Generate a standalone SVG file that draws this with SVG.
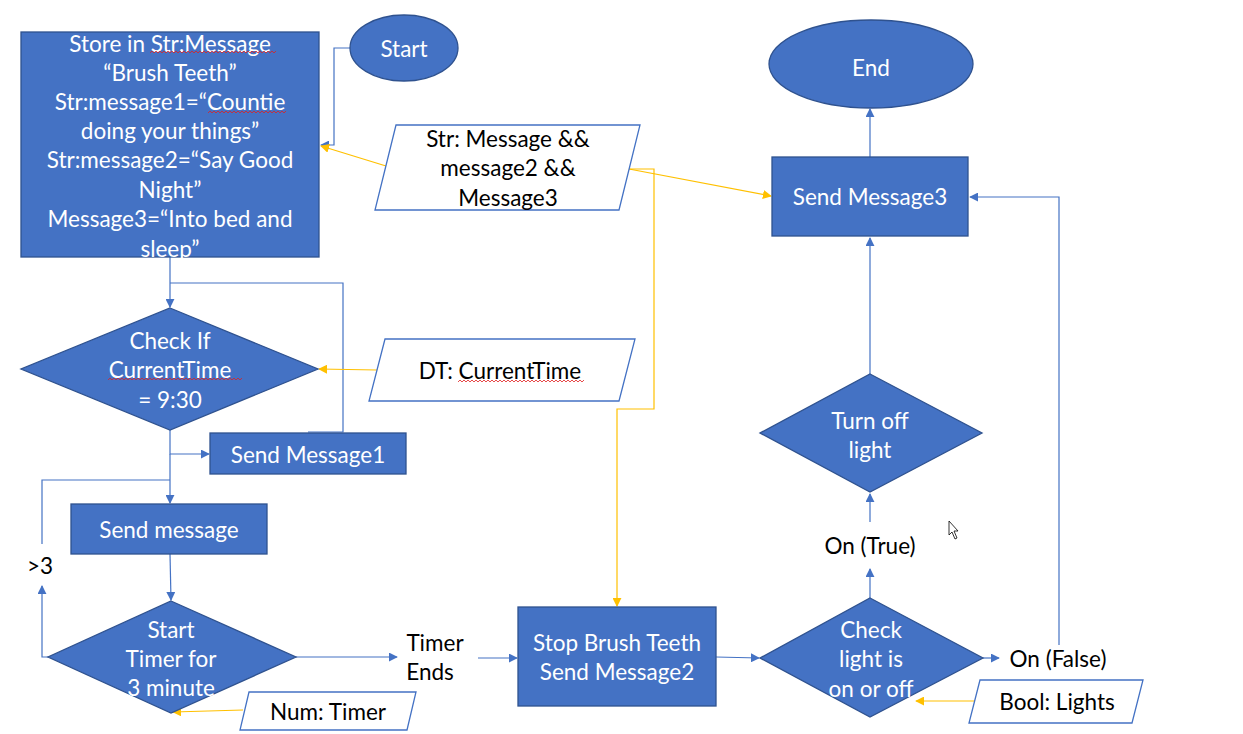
<svg xmlns="http://www.w3.org/2000/svg" width="1243" height="734" viewBox="0 0 1243 734">
<style>
.fill{fill:#4472C4;stroke:#2F528F;stroke-width:1.3}
.io{fill:#fff;stroke:#4472C4;stroke-width:1.3}
.w{fill:#fff;font-family:Lato,"Open Sans",sans-serif;font-size:22.5px;text-anchor:middle;dominant-baseline:central}
.b{fill:#000;font-family:Lato,"Open Sans",sans-serif;font-size:22.5px;text-anchor:middle;dominant-baseline:central}
.cb{fill:none;stroke:#4472C4;stroke-width:1.2}
.cy{fill:none;stroke:#FFC000;stroke-width:1.2}
.sq{fill:none;stroke:#E02020;stroke-width:0.8}
</style>
<defs>
<marker id="ab" viewBox="0 0 10 10" refX="9" refY="5" markerWidth="9" markerHeight="9" markerUnits="userSpaceOnUse" orient="auto"><path d="M0,0L10,5L0,10z" fill="#4472C4"/></marker>
<marker id="ay" viewBox="0 0 10 10" refX="9" refY="5" markerWidth="9" markerHeight="9" markerUnits="userSpaceOnUse" orient="auto"><path d="M0,0L10,5L0,10z" fill="#FFC000"/></marker>
</defs>
<rect width="1243" height="734" fill="#fff"/>
<g id="connectors">
<polyline class="cb" points="350,48 334,48 334,145 321,145" marker-end="url(#ab)"/>
<line class="cy" x1="386" y1="166" x2="321" y2="146" marker-end="url(#ay)"/>
<line class="cy" x1="629" y1="169" x2="771" y2="196" marker-end="url(#ay)"/>
<polyline class="cy" points="629,169 654,169 654,409 617,409 617,606" marker-end="url(#ay)"/>
<line class="cb" x1="870" y1="157" x2="870" y2="109" marker-end="url(#ab)"/>
<line class="cb" x1="870" y1="374" x2="870" y2="238" marker-end="url(#ab)"/>
<line class="cb" x1="870" y1="522" x2="870" y2="494" marker-end="url(#ab)"/>
<line class="cb" x1="870" y1="598" x2="870" y2="569" marker-end="url(#ab)"/>
<line class="cb" x1="983" y1="658" x2="999" y2="658" marker-end="url(#ab)"/>
<polyline class="cb" points="1059,645 1059,197 970,197" marker-end="url(#ab)"/>
<line class="cy" x1="975" y1="701" x2="916" y2="701" marker-end="url(#ay)"/>
<line class="cb" x1="716" y1="657" x2="759" y2="658" marker-end="url(#ab)"/>
<line class="cb" x1="478" y1="658" x2="517" y2="658" marker-end="url(#ab)"/>
<line class="cb" x1="296" y1="657" x2="397" y2="657" marker-end="url(#ab)"/>
<line class="cb" x1="170" y1="257" x2="170" y2="307" marker-end="url(#ab)"/>
<polyline class="cb" points="170,283 343,283 343,432 308,432"/>
<line class="cy" x1="377" y1="370" x2="319" y2="369" marker-end="url(#ay)"/>
<polyline class="cb" points="170,430 170,454 209,454" marker-end="url(#ab)"/>
<line class="cb" x1="170" y1="454" x2="170" y2="503" marker-end="url(#ab)"/>
<polyline class="cb" points="170,480 42,480 42,544"/>
<polyline class="cb" points="48,657 42,657 42,586" marker-end="url(#ab)"/>
<line class="cb" x1="170" y1="554" x2="171" y2="600" marker-end="url(#ab)"/>
<line class="cy" x1="243" y1="710" x2="173" y2="712" marker-end="url(#ay)"/>
</g>
<g id="store">
<rect class="fill" x="21" y="32" width="298" height="225"/>
<text class="w" x="170" y="43">Store in Str:Message</text>
<text class="w" x="170" y="72">“Brush Teeth”</text>
<text class="w" x="170" y="101">Str:message1=“Countie</text>
<text class="w" x="170" y="130">doing your things”</text>
<text class="w" x="170" y="159">Str:message2=“Say Good</text>
<text class="w" x="170" y="189">Night”</text>
<text class="w" x="170" y="218">Message3=“Into bed and</text>
<text class="w" x="170" y="248">sleep”</text>
<path class="sq" d="M150,53 l2,-2 l2,2 l2,-2 l2,2 l2,-2 l2,2 l2,-2 l2,2 l2,-2 l2,2 l2,-2 l2,2 l2,-2 l2,2 l2,-2 l2,2 l2,-2 l2,2 l2,-2 l2,2 l2,-2 l2,2 l2,-2 l2,2 l2,-2 l2,2 l2,-2 l2,2 l2,-2 l2,2 l2,-2 l2,2 l2,-2 l2,2 l2,-2 l2,2 l2,-2 l2,2 l2,-2 l2,2 l2,-2 l2,2 l2,-2 l2,2 l2,-2 l2,2 l2,-2 l2,2 l2,-2 l2,2 l2,-2 l2,2 l2,-2 l2,2 l2,-2 l2,2 l2,-2 l2,2 l2,-2 l2,2 l2,-2 l2,2 l2,-2"/>
<path class="sq" d="M208,113 l2,-2 l2,2 l2,-2 l2,2 l2,-2 l2,2 l2,-2 l2,2 l2,-2 l2,2 l2,-2 l2,2 l2,-2 l2,2 l2,-2 l2,2 l2,-2 l2,2 l2,-2 l2,2 l2,-2 l2,2 l2,-2 l2,2 l2,-2 l2,2 l2,-2 l2,2 l2,-2 l2,2 l2,-2 l2,2 l2,-2 l2,2 l2,-2 l2,2 l2,-2 l2,2 l2,-2"/>
</g>
<g id="start">
<ellipse class="fill" cx="404" cy="48" rx="54" ry="33"/>
<text class="w" x="404" y="48">Start</text>
</g>
<g id="io-messages">
<polygon class="io" points="396,125 640,125 619,210 375,210"/>
<text class="b" x="508" y="138">Str: Message &amp;&amp;</text>
<text class="b" x="508" y="167">message2 &amp;&amp;</text>
<text class="b" x="508" y="197">Message3</text>
</g>
<g id="end">
<ellipse class="fill" cx="871" cy="64" rx="102" ry="44"/>
<text class="w" x="871" y="67">End</text>
</g>
<g id="send-message3">
<rect class="fill" x="772" y="157" width="196" height="79"/>
<text class="w" x="870" y="196">Send Message3</text>
</g>
<g id="turn-off-light">
<polygon class="fill" points="870,374 982,433 870,492 760,433"/>
<text class="w" x="870" y="420">Turn off</text>
<text class="w" x="870" y="449">light</text>
</g>
<g id="on-true">
<text class="b" x="870" y="545">On (True)</text>
</g>
<g id="check-light">
<polygon class="fill" points="870,598 983,658 870,717 760,658"/>
<text class="w" x="871" y="629">Check</text>
<text class="w" x="871" y="658">light is</text>
<text class="w" x="871" y="688">on or off</text>
</g>
<g id="on-false">
<text class="b" x="1058" y="658">On (False)</text>
</g>
<g id="bool-lights">
<polygon class="io" points="980,680 1143,680 1132,723 969,723"/>
<text class="b" x="1057" y="701">Bool: Lights</text>
</g>
<g id="stop-brush">
<rect class="fill" x="518" y="607" width="198" height="99"/>
<text class="w" x="617" y="642">Stop Brush Teeth</text>
<text class="w" x="617" y="671">Send Message2</text>
</g>
<g id="timer-ends">
<text class="b" x="435" y="642">Timer</text>
<text class="b" x="430" y="671">Ends</text>
</g>
<g id="check-time">
<polygon class="fill" points="170,308 318,369 170,430 21,369"/>
<text class="w" x="170" y="340">Check If</text>
<text class="w" x="170" y="369">CurrentTime</text>
<text class="w" x="170" y="399">= 9:30</text>
<path class="sq" d="M108,380 l2,-2 l2,2 l2,-2 l2,2 l2,-2 l2,2 l2,-2 l2,2 l2,-2 l2,2 l2,-2 l2,2 l2,-2 l2,2 l2,-2 l2,2 l2,-2 l2,2 l2,-2 l2,2 l2,-2 l2,2 l2,-2 l2,2 l2,-2 l2,2 l2,-2 l2,2 l2,-2 l2,2 l2,-2 l2,2 l2,-2 l2,2 l2,-2 l2,2 l2,-2 l2,2 l2,-2 l2,2 l2,-2 l2,2 l2,-2 l2,2 l2,-2 l2,2 l2,-2 l2,2 l2,-2 l2,2 l2,-2 l2,2 l2,-2 l2,2 l2,-2 l2,2 l2,-2 l2,2 l2,-2 l2,2 l2,-2 l2,2 l2,-2 l2,2 l2,-2 l2,2 l2,-2"/>
</g>
<g id="dt-currenttime">
<polygon class="io" points="385,339 635,339 619,401 369,401"/>
<text class="b" x="500" y="370">DT: CurrentTime</text>
<path class="sq" d="M458,382 l2,-2 l2,2 l2,-2 l2,2 l2,-2 l2,2 l2,-2 l2,2 l2,-2 l2,2 l2,-2 l2,2 l2,-2 l2,2 l2,-2 l2,2 l2,-2 l2,2 l2,-2 l2,2 l2,-2 l2,2 l2,-2 l2,2 l2,-2 l2,2 l2,-2 l2,2 l2,-2 l2,2 l2,-2 l2,2 l2,-2 l2,2 l2,-2 l2,2 l2,-2 l2,2 l2,-2 l2,2 l2,-2 l2,2 l2,-2 l2,2 l2,-2 l2,2 l2,-2 l2,2 l2,-2 l2,2 l2,-2 l2,2 l2,-2 l2,2 l2,-2 l2,2 l2,-2 l2,2 l2,-2 l2,2 l2,-2 l2,2 l2,-2"/>
</g>
<g id="send-message1">
<rect class="fill" x="210" y="433" width="196" height="41"/>
<text class="w" x="308" y="454">Send Message1</text>
</g>
<g id="send-message">
<rect class="fill" x="71" y="504" width="196" height="50"/>
<text class="w" x="169" y="529">Send message</text>
</g>
<g id="gt3">
<text class="b" x="40" y="565">&gt;3</text>
</g>
<g id="start-timer">
<polygon class="fill" points="171,601 296,657 171,713 48,657"/>
<text class="w" x="171" y="629">Start</text>
<text class="w" x="171" y="658">Timer for</text>
<text class="w" x="171" y="687">3 minute</text>
</g>
<g id="num-timer">
<polygon class="io" points="249,692 416,692 407,730 240,730"/>
<text class="b" x="328" y="711">Num: Timer</text>
</g>
<g id="cursor">
<path d="M949,521 L949,535 L952,532 L955,539 L957,538 L954,531 L958,531 Z" fill="#fff" stroke="#000" stroke-width="0.8"/>
</g>
</svg>
